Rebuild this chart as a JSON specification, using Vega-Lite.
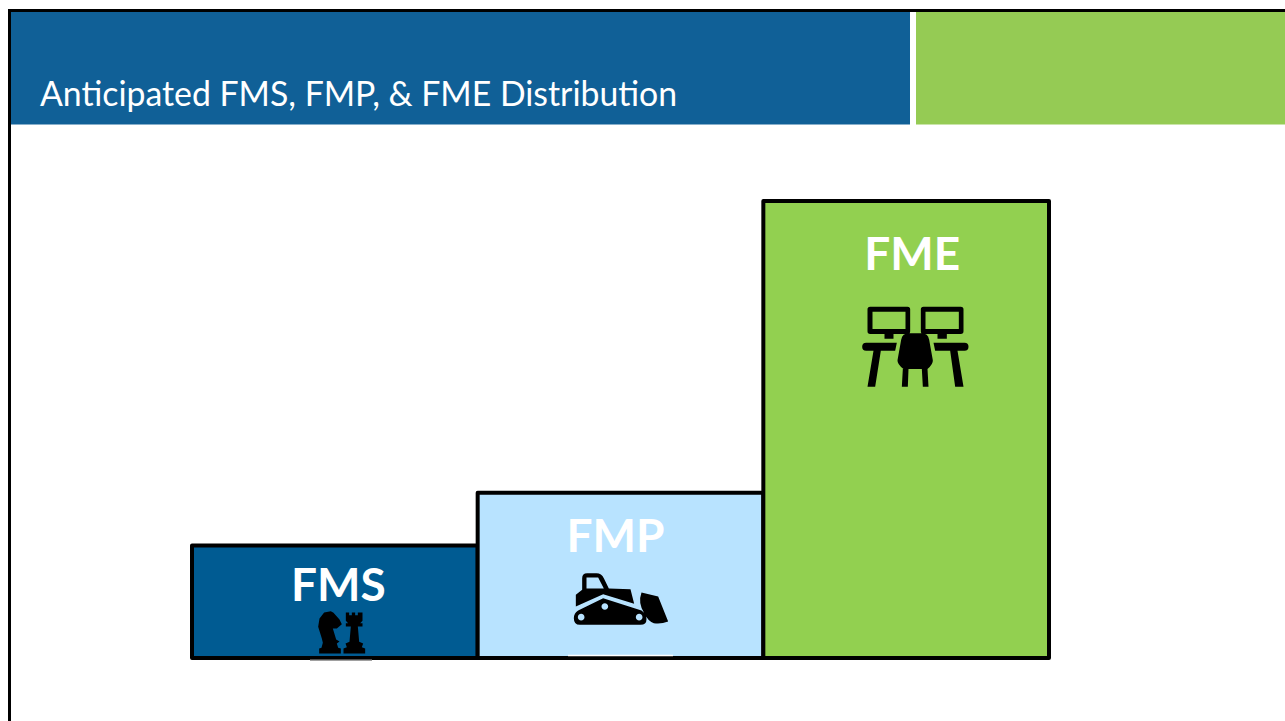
{
"$schema":"https://vega.github.io/schema/vega-lite/v6.json",
"width":1285,"height":721,"autosize":{"type":"fit","contains":"padding"},"padding":0,"background":"white",
"config":{"view":{"stroke":null},"axis":{"domain":false,"ticks":false,"labels":false,"grid":false,"title":null}},
"datasets":{
 "bars":[{"category":"FMS","value":112.5},{"category":"FMP","value":165.3},{"category":"FME","value":457}],
 "slide":[
  {"part":"frame-left","x0":8,"x1":11,"y0":9,"y1":721,"color":"#000000"},
  {"part":"frame-top","x0":8,"x1":1285,"y0":9,"y1":12,"color":"#000000"},
  {"part":"header","x0":11,"x1":910,"y0":12,"y1":124.5,"color":"#106097"},
  {"part":"accent","x0":916,"x1":1285,"y0":12,"y1":124.5,"color":"#95CB54"}
 ],
 "heading":[{"text":"Anticipated FMS, FMP, & FME Distribution","x":40,"y":96}],
 "retouch":[
  {"part":"icon-edge-FMS","x0":310,"x1":372,"y0":659.5,"y1":661,"color":"#A0A0A0"},
  {"part":"icon-edge-FMP","x0":568,"x1":673,"y0":654.8,"y1":656.3,"color":"#FFFFFF"}
 ]
},
"resolve":{"scale":{"x":"independent","y":"independent","color":"independent"}},
"layer":[
 {"data":{"name":"slide"},
  "mark":{"type":"rect"},
  "encoding":{
   "x":{"field":"x0","type":"quantitative","scale":{"domain":[0,1285],"range":[0,1285],"nice":false,"zero":false},"axis":null},
   "x2":{"field":"x1"},
   "y":{"field":"y0","type":"quantitative","scale":{"domain":[0,721],"range":[0,721],"nice":false,"zero":false},"axis":null},
   "y2":{"field":"y1"},
   "color":{"field":"color","type":"nominal","scale":null,"legend":null}
  }},
 {"data":{"name":"heading"},
  "mark":{"type":"text","font":"Lato","fontSize":33.8,"align":"left","baseline":"middle","color":"white"},
  "encoding":{
   "x":{"field":"x","type":"quantitative","scale":{"domain":[0,1285],"range":[0,1285],"nice":false,"zero":false},"axis":null},
   "y":{"field":"y","type":"quantitative","scale":{"domain":[0,721],"range":[0,721],"nice":false,"zero":false},"axis":null},
   "text":{"field":"text"}
  }},
 {"data":{"name":"bars"},
  "encoding":{
   "x":{"field":"category","type":"nominal","sort":["FMS","FMP","FME"],"scale":{"domain":["FMS","FMP","FME"],"range":[192,1049],"paddingInner":0,"paddingOuter":0},"axis":null},
   "y":{"field":"value","type":"quantitative","scale":{"domain":[0,457],"range":[658,201],"nice":false,"zero":true},"axis":null}
  },
  "layer":[
   {"mark":{"type":"bar","stroke":"#000000","strokeWidth":4,"strokeJoin":"round"},
    "encoding":{"color":{"field":"category","type":"nominal","scale":{"domain":["FMS","FMP","FME"],"range":["#005B92","#B8E3FF","#92D050"]},"legend":null}}},
   {"transform":[{"filter":"datum.category==='FMS'"}],
    "mark":{"type":"text","font":"Lato","fontWeight":"bold","fontSize":46,"color":"white","baseline":"middle","dx":3.5,"dy":41},
    "encoding":{"text":{"field":"category"}}},
   {"transform":[{"filter":"datum.category==='FMP'"}],
    "mark":{"type":"text","font":"Lato","fontWeight":"bold","fontSize":46,"color":"white","baseline":"middle","dx":-5,"dy":45},
    "encoding":{"text":{"field":"category"}}},
   {"transform":[{"filter":"datum.category==='FME'"}],
    "mark":{"type":"text","font":"Lato","fontWeight":"bold","fontSize":46,"color":"white","baseline":"middle","dx":6,"dy":55},
    "encoding":{"text":{"field":"category"}}},
   {"transform":[{"filter":"datum.category==='FMS'"}],
    "mark":{"type":"point","filled":true,"fill":"#000000","stroke":null,"opacity":1,"size":0.44444444,"xOffset":7,"yOffset":87,
     "shape":"M -68 63 H -3 V 48 L -11 46 L -15 33 L -7 27 L -17 21 L -27 -12 L -15 -12 L 0 -25 L -7 -39 L -25 -59 L -33 -64 L -53 -60 L -67 -42 L -71 -17 L -60 18 L -57 31 L -61 46 L -68 48 Z M 12 -60 H 22 V -52 H 30 V -60 H 40 V -52 H 48 V -60 H 62 V -35 L 55 -28 H 62 V -18 H 48 L 52 28 L 64 33 L 60 44 L 70 48 V 63 H 5 V 48 L 15 44 L 11 33 L 23 28 L 27 -18 H 12 V -28 H 19 L 12 -35 Z"}},
   {"transform":[{"filter":"datum.category==='FMP'"}],
    "mark":{"type":"point","filled":true,"fill":"#000000","stroke":null,"opacity":1,"size":0.44444444,"xOffset":0,"yOffset":106.5,
     "shape":"M -115 -28 V -63 Q -115 -78 -100 -78 H -72 Q -57 -78 -50 -63 L -35 -32 L 30 -30 L 41 14 L -52 -15 L -134 22 V -13 Z M -102 -65 V -32 H -50 L -67 -65 Z M -52 -3 L 63 34 Q 78 45 78 60 Q 78 77 60 77 H -122 Q -140 77 -140 57 Q -140 42 -127 34 Z M -128 54 A 10 10 0 1 0 -108 54 A 10 10 0 1 0 -128 54 Z M -57 22 A 10 10 0 1 0 -37 22 A 10 10 0 1 0 -57 22 Z M 46 54 A 10 10 0 1 0 66 54 A 10 10 0 1 0 46 54 Z M 63 -20 L 113 -8 L 143 67 Q 120 76 100 72 Q 82 66 70 40 Q 52 10 63 -20 Z"}},
   {"transform":[{"filter":"datum.category==='FME'"}],
    "mark":{"type":"point","filled":true,"fill":"#000000","stroke":null,"opacity":1,"size":0.44444444,"xOffset":9,"yOffset":146,
     "shape":"M -135 -121 H -23 Q -15 -121 -15 -113 V -47 Q -15 -39 -23 -39 H -135 Q -143 -39 -143 -47 V -113 Q -143 -121 -135 -121 Z M -128 -106 V -54 H -29 V -106 Z M 25 -121 H 137 Q 145 -121 145 -113 V -47 Q 145 -39 137 -39 H 25 Q 17 -39 17 -47 V -113 Q 17 -121 25 -121 Z M 31 -106 V -54 H 131 V -106 Z M -92 -39 H -65 V -25 H -92 Z M 67 -39 H 95 V -25 H 67 Z M -147 -13 H -55 L -60 11 H -147 Q -159 11 -159 -1 Q -159 -13 -147 -13 Z M 55 -13 H 148 Q 160 -13 160 -1 Q 160 11 148 11 H 60 Z M -125 11 H -103 L -120 119 H -143 Z M 105 11 H 127 L 145 119 H 120 Z M -20 -41 H 20 Q 38 -41 42 -22 L 53 40 Q 54 52 37 66 H -35 Q -54 52 -53 40 L -42 -22 Q -38 -41 -20 -41 Z M -37 66 H -20 L -22 119 H -40 Z M 20 66 H 37 L 40 119 H 23 Z"}}
  ]},
 {"data":{"name":"retouch"},
  "mark":{"type":"rect"},
  "encoding":{
   "x":{"field":"x0","type":"quantitative","scale":{"domain":[0,1285],"range":[0,1285],"nice":false,"zero":false},"axis":null},
   "x2":{"field":"x1"},
   "y":{"field":"y0","type":"quantitative","scale":{"domain":[0,721],"range":[0,721],"nice":false,"zero":false},"axis":null},
   "y2":{"field":"y1"},
   "color":{"field":"color","type":"nominal","scale":null,"legend":null}
  }}
]}
